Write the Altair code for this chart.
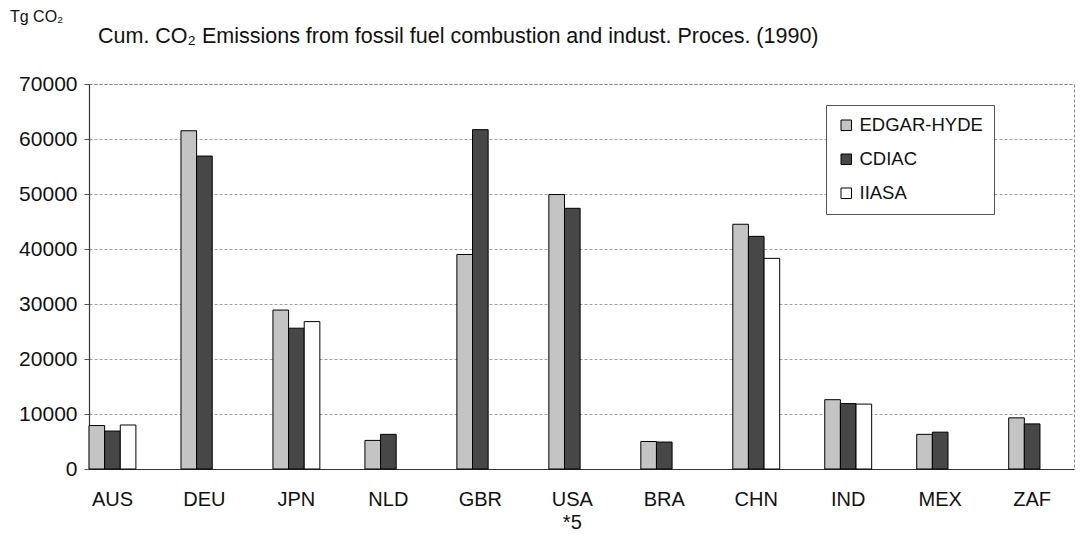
import altair as alt
import pandas as pd

countries = ["AUS", "DEU", "JPN", "NLD", "GBR", "USA", "BRA", "CHN", "IND", "MEX", "ZAF"]
series = ["EDGAR-HYDE", "CDIAC", "IIASA"]
edgar = [7900, 61500, 28900, 5200, 39000, 49900, 5000, 44500, 12600, 6300, 9300]
cdiac = [6900, 56900, 25600, 6300, 61700, 47400, 4900, 42300, 11900, 6700, 8200]
iiasa = [8000, None, 26800, None, None, None, None, 38300, 11800, None, None]
y_ticks = [0, 10000, 20000, 30000, 40000, 50000, 60000, 70000]
fills = ["#c4c4c4", "#474747", "#ffffff"]

title_text = "Cum. CO\u2082 Emissions from fossil fuel combustion and indust. Proces. (1990)"
unit_text = "Tg CO\u2082"

rows = []
for name, vals in zip(series, [edgar, cdiac, iiasa]):
    for c, v in zip(countries, vals):
        if v is not None:
            rows.append({"country": c, "series": name, "value": v})
df = pd.DataFrame(rows)

FONT = "Liberation Sans"

bars = alt.Chart(df).mark_bar(stroke="black", strokeWidth=1).encode(
    x=alt.X(
        "country:N",
        sort=countries,
        scale=alt.Scale(paddingInner=0.49, paddingOuter=0.1, align=0),
        axis=alt.Axis(
            title=None,
            labelAngle=0,
            ticks=False,
            labelPadding=20,
            labelFontSize=20,
            labelFont=FONT,
            labelColor="#111",
            labelLineHeight=23,
            labelExpr="datum.value == 'USA' ? ['USA', '*5'] : datum.value",
            domainColor="#333",
            domainWidth=1.2,
        ),
    ),
    xOffset=alt.XOffset("series:N", sort=series,
                        scale=alt.Scale(domain=series, paddingInner=0, paddingOuter=0)),
    y=alt.Y(
        "value:Q",
        scale=alt.Scale(domain=[0, 70000], nice=False),
        axis=alt.Axis(
            title=None,
            values=y_ticks,
            format="d",
            labelFontSize=21,
            labelFont=FONT,
            labelColor="#111",
            tickSize=5,
            tickColor="#555",
            labelPadding=7,
            gridColor="#888",
            gridDash=[3, 2],
            gridWidth=0.8,
            domainColor="#333",
            domainWidth=1.2,
        ),
    ),
    color=alt.Color(
        "series:N",
        sort=series,
        scale=alt.Scale(domain=series, range=fills),
        legend=alt.Legend(
            title=None,
            orient="none",
            legendX=737,
            legendY=21,
            symbolType="square",
            symbolSize=110,
            symbolStrokeColor="black",
            symbolStrokeWidth=1,
            symbolOpacity=1,
            labelFontSize=18.5,
            labelFont=FONT,
            labelColor="#111",
            rowPadding=15,
            padding=11,
            strokeColor="#555",
            fillColor="white",
            labelLimit=300,
        ),
    ),
)

title = alt.Chart(pd.DataFrame({"t": [title_text]})).mark_text(
    align="left", baseline="middle", fontSize=21.5, font=FONT, color="#111"
).encode(x=alt.value(9), y=alt.value(-47), text="t:N")

unit = alt.Chart(pd.DataFrame({"t": [unit_text]})).mark_text(
    align="left", baseline="middle", fontSize=16, font=FONT, color="#111"
).encode(x=alt.value(-79), y=alt.value(-67), text="t:N")

chart = alt.layer(bars, title, unit).properties(
    width=985,
    height=385,
    padding={"left": 81, "top": 76, "right": 2, "bottom": 62},
    autosize=alt.AutoSizeParams(type="none"),
    background="white",
).configure_view(stroke="#888", strokeDash=[3, 2], strokeWidth=1)

chart.save("out.html", embed_options={"renderer": "svg", "actions": False})
